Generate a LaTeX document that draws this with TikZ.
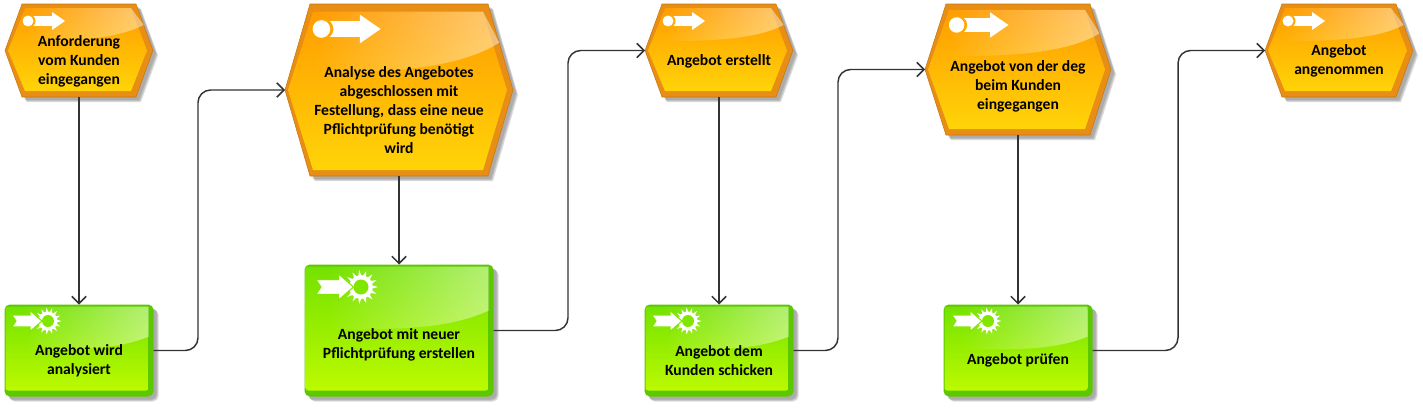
\documentclass[tikz,border=0pt]{standalone}
\usepackage{fontspec}
\setmainfont{Carlito}
\usetikzlibrary{arrows.meta, fadings}
\tikzset{>={Straight Barb[width=3.8mm,length=1.9mm]}}
\tikzfading[name=glossfade, left color=transparent!100, right color=transparent!55]
\definecolor{evtTop}{HTML}{FF9C00}
\definecolor{evtBot}{HTML}{FFD408}
\definecolor{evtEdge}{HTML}{E88E14}
\definecolor{fnTop}{HTML}{74E200}
\definecolor{fnBot}{HTML}{BCFA00}
\definecolor{fnEdge}{HTML}{5CC800}
\tikzset{
  flow/.style={draw=black!80, line width=1.1pt, rounded corners=9.5pt},
  box/.style={inner sep=0pt, outer sep=0pt},
  lbl/.style={align=center, font=\fontsize{11.7}{14.25}\selectfont\bfseries, text=black, inner sep=0pt},
  evicon/.pic={
    \fill[white] (0,-5) rectangle (24,5);
    \fill[white] (23,-9) -- (36,0) -- (23,9) -- cycle;
    \fill[evtTop!80!evtBot] (0,0) circle (6.5);
    \fill[white] (-1,0) circle (5.5);
  },
  fnicon/.pic={
    \begin{scope}[shift={(16,0)}]
      \fill[white] (0,0) circle (9.5);
      \foreach \a in {0,24,...,336} {
        \fill[white] (\a-8:9) -- (\a:13.5) -- (\a+8:9) -- cycle;
      }
      \fill[fnTop!80!fnBot] (0,0) circle (6);
    \end{scope}
    \fill[white, draw=fnTop!80!fnBot, line width=.8pt] (-20,-6) -- (-2,-6) -- (-2,-10.5) -- (10,0) -- (-2,10.5) -- (-2,6) -- (-20,6) -- (-16,0) -- cycle;
  },
}
% name, centre x, centre y, half width, half height, slant, text y, text
\newcommand{\evtshape}[8]{
  \begin{scope}[shift={(#2,#3)}]
    \foreach \d/\o in {3/.10,4/.12,5/.14} {
      \fill[black, opacity=\o] ({-#4+#6+\d},{-#5+\d}) -- ({#4-#6+\d},{-#5+\d}) -- ({#4+\d},\d) -- ({#4-#6+\d},{#5+\d}) -- ({-#4+#6+\d},{#5+\d}) -- ({-#4+\d},\d) -- cycle;
    }
    \fill[evtEdge, draw=evtEdge!85!black, line width=.4pt] ({-#4+#6},-#5) -- ({#4-#6},-#5) -- (#4,0) -- ({#4-#6},#5) -- ({-#4+#6},#5) -- (-#4,0) -- cycle;
    \shade[top color=evtTop, bottom color=evtBot] ({-#4+#6+3},{-#5*.91}) -- ({#4-#6-5},{-#5*.91}) -- ({#4-6},0) -- ({#4-#6-5},{#5-6}) -- ({-#4+#6+3},{#5-6}) -- ({-#4+3},0) -- cycle;
    \fill[white, path fading=glossfade] ({-#4*.75},{-#5*.91}) -- ({#4-#6-5},{-#5*.91}) -- ({#4-#6*.55},{-#5*.55}) .. controls ({#4*.55},{-#5*.28}) and ({#4*.05},{-#5*.2}) .. ({-#4*.75},{-#5*.2}) -- cycle;
  \end{scope}
  \node[box, minimum width=1.5*#4, minimum height=1.5*#5] (#1) at (#2,#3) {};
  \node[lbl] (#1t) at (#2,#7) {#8};
}
% name, centre x, centre y, half width, half height, text y, text
\newcommand{\fnshape}[7]{
  \begin{scope}[shift={(#2,#3)}]
    \foreach \d/\o in {3/.10,4/.12,5/.14} {
      \fill[black, opacity=\o, rounded corners=4pt] ({-#4+\d},{-#5+\d}) rectangle ({#4+\d},{#5+\d});
    }
    \fill[fnEdge, rounded corners=4pt] (-#4,-#5) rectangle (#4,#5);
    \shade[top color=fnTop, bottom color=fnBot, rounded corners=2pt] ({-#4+1},{-#5+2}) rectangle ({#4-5},{#5-6});
    \fill[white, path fading=glossfade] ({-#4*.75},{-#5+2}) -- ({#4-5},{-#5+2}) -- ({#4-5},{-#5*.3}) .. controls ({#4*.5},{-#5*.02}) and ({#4*.05},{-#5*.02}) .. ({-#4*.75},{-#5*.02}) -- cycle;
  \end{scope}
  \node[box, minimum width=1.5*#4, minimum height=1.5*#5] (#1) at (#2,#3) {};
  \node[lbl] (#1t) at (#2,#6) {#7};
}
\begin{document}
\begin{tikzpicture}[x=0.75pt, y=-0.75pt]
  \useasboundingbox (0,0) rectangle (1423,407);
  \fill[white] (0,0) rectangle (1423,407);

  \coordinate (c1) at (198,0);
  \coordinate (c2) at (568,0);
  \coordinate (c3) at (838,0);
  \coordinate (c4) at (1178,0);

  % events
  \evtshape{EvtA}{79}{50.5}{74}{46.5}{17}{61}{Anforderung\\vom Kunden\\eingegangen}
  \evtshape{EvtB}{399}{90}{114}{86}{25}{110}{Analyse des Angebotes\\abgeschlossen mit\\Festellung, dass eine neue\\Pflichtprüfung benötigt\\wird}
  \evtshape{EvtC}{719}{50.5}{74}{46.5}{17}{61}{Angebot erstellt}
  \evtshape{EvtD}{1018}{69.5}{93}{65.5}{21}{86}{Angebot von der deg\\beim Kunden\\eingegangen}
  \evtshape{EvtE}{1339}{50.5}{74}{46.5}{17}{61}{Angebot\\angenommen}

  % functions
  \fnshape{FnA}{79}{350.5}{74.5}{46}{361}{Angebot wird\\analysiert}
  \fnshape{FnB}{399}{330.5}{94.5}{66}{345}{Angebot mit neuer\\Pflichtprüfung erstellen}
  \fnshape{FnC}{719}{350.5}{74.5}{46}{361}{Angebot dem\\Kunden schicken}
  \fnshape{FnD}{1018}{350.5}{74.5}{46}{360}{Angebot prüfen}

  % icons
  \pic at (29,21) {evicon};
  \pic[scale=1.6] at (323,29) {evicon};
  \pic at (669,21) {evicon};
  \pic[scale=1.4] at (958,25) {evicon};
  \pic at (1289,21) {evicon};
  \pic at (32,321) {fnicon};
  \pic[scale=1.25] at (341,287) {fnicon};
  \pic at (672,321) {fnicon};
  \pic at (972,321) {fnicon};

  % connectors
  \draw[flow, ->] (EvtA) -- (FnA);
  \draw[flow, ->] (EvtB) -- (FnB);
  \draw[flow, ->] (EvtC) -- (FnC);
  \draw[flow, ->] (EvtD) -- (FnD);
  \draw[flow, ->] (FnA.east) -- (c1 |- FnA.east) -- (c1 |- EvtB.west) -- (EvtB.west);
  \draw[flow, ->] (FnB.east) -- (c2 |- FnB.east) -- (c2 |- EvtC.west) -- (EvtC.west);
  \draw[flow, ->] (FnC.east) -- (c3 |- FnC.east) -- (c3 |- EvtD.west) -- (EvtD.west);
  \draw[flow, ->] (FnD.east) -- (c4 |- FnD.east) -- (c4 |- EvtE.west) -- (EvtE.west);
\end{tikzpicture}
\end{document}
